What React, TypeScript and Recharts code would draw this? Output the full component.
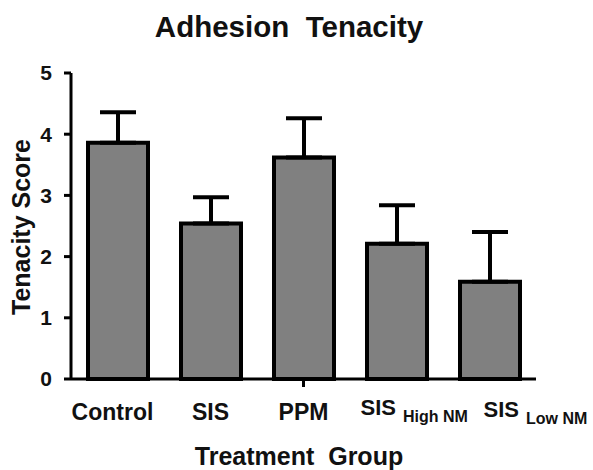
import { BarChart, Bar, XAxis, YAxis, ErrorBar } from 'recharts';

// values
const groups = ['Control', 'SIS', 'PPM', 'SIS High NM', 'SIS Low NM'];
const groupMain = ['Control', 'SIS', 'PPM', 'SIS', 'SIS'];
const groupSub = ['', '', '', 'High NM', 'Low NM'];
const tenacity = [3.86, 2.54, 3.62, 2.21, 1.59];
const sem = [0.5, 0.43, 0.64, 0.63, 0.81];
const yTicks = [0, 1, 2, 3, 4, 5];

const data = groups.map((g, i) => ({
  group: g,
  score: tenacity[i],
  err: [0, sem[i]],
}));

const FONT = '"Liberation Sans", Arial, Helvetica, sans-serif';

const GroupTick = (props: any) => {
  const { x, y, index } = props;
  const main = groupMain[index];
  const sub = groupSub[index];
  if (!sub) {
    return (
      <g>
        {index === 2 && <line x1={x} x2={x} y1={y} y2={y + 8} stroke="#000" strokeWidth={3} />}
        <text x={x + (index === 0 ? -5 : 0)} y={y + 41} textAnchor="middle" fontFamily={FONT}
          fontWeight="bold" fontSize={23} fill="#111">{main}</text>
      </g>
    );
  }
  const startX = index === 3 ? x - 36 : x - 6;
  return (
    <text x={startX} y={y + (index === 3 ? 36 : 38)} textAnchor="start" fontFamily={FONT} fontWeight="bold"
      fontSize={22} fill="#111">
      <tspan>{main}</tspan>
      <tspan fontSize={16} dx={7} dy={7}>{sub}</tspan>
    </text>
  );
};

export default function App() {
  return (
    <div style={{ position: 'absolute', left: 0, top: 0, width: 593, height: 470, background: '#fff' }}>
      <BarChart
        width={593}
        height={470}
        data={data}
        margin={{ top: 73, right: 57, bottom: 31, left: 21 }}
        barCategoryGap={0}
      >
        <text x={289} y={37} textAnchor="middle" fontFamily={FONT} fontWeight="bold" fontSize={29.5}
          fill="#111" style={{ whiteSpace: 'pre' }}>
          {'Adhesion  Tenacity'}
        </text>
        <text x={30} y={227} textAnchor="middle" fontFamily={FONT} fontWeight="bold" fontSize={25}
          fill="#111" transform="rotate(-90 30 227)">
          Tenacity Score
        </text>
        <text x={299} y={465} textAnchor="middle" fontFamily={FONT} fontWeight="bold" fontSize={25}
          fill="#111" style={{ whiteSpace: 'pre' }}>
          {'Treatment  Group'}
        </text>
        <XAxis
          dataKey="group"
          height={60}
          axisLine={{ stroke: '#000', strokeWidth: 3 }}
          tickLine={false}
          tickSize={0}
          tickMargin={0}
          tick={<GroupTick />}
          interval={0}
        />
        <YAxis
          width={50}
          domain={[0, 5]}
          ticks={yTicks}
          axisLine={{ stroke: '#000', strokeWidth: 3 }}
          tickLine={{ stroke: '#000', strokeWidth: 3 }}
          tickSize={7}
          tickMargin={12}
          tick={{ fontFamily: FONT, fontWeight: 'bold', fontSize: 21, fill: '#111' }}
        />
        <Bar dataKey="score" fill="#808080" stroke="#000" strokeWidth={4} barSize={60} isAnimationActive={false}>
          <ErrorBar dataKey="err" direction="y" width={18} stroke="#000" strokeWidth={4} isAnimationActive={false} />
        </Bar>
      </BarChart>
    </div>
  );
}
